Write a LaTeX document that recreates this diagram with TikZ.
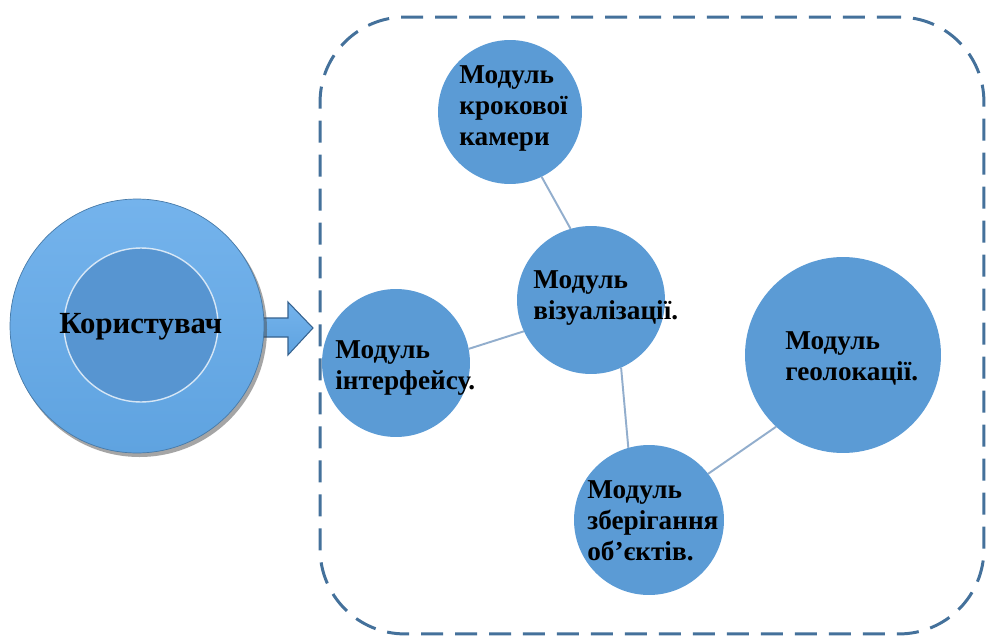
\documentclass[tikz,border=0pt]{standalone}
\usepackage{fontspec}
\setmainfont{Liberation Serif}
\definecolor{modblue}{HTML}{5B9BD5}
\definecolor{userblue}{HTML}{5FA3E0}
\definecolor{userlight}{HTML}{74B3EC}
\definecolor{userinner}{HTML}{5795D1}
\definecolor{linkblue}{HTML}{92AECD}
\definecolor{bordblue}{HTML}{44719B}
\definecolor{arrowedge}{HTML}{35628F}
\begin{document}
\begin{tikzpicture}[x=0.02cm,y=-0.02cm,
  module/.style={circle, fill=modblue, draw=none, inner sep=0pt, outer sep=0pt},
  lbl/.style={font=\bfseries\fontsize{15.5}{17.6}\selectfont, align=left, inner sep=0pt, anchor=north west, text=black},
  link/.style={draw=linkblue, line width=1.1pt},
  sysbox/.style={draw=bordblue, line width=1.7pt, dash pattern=on 0.44cm off 0.24cm, rounded corners=1.7cm, inner sep=0pt, outer sep=0pt}
]
\useasboundingbox (0,0) rectangle (987,639);
\fill[white] (0,0) rectangle (987,639);

% system boundary
\node[sysbox, minimum width=13.28cm, minimum height=12.34cm] (sys) at (652,325.5) {};

% modules
\node[module, minimum size=2.88cm] (cam) at (510,112) {};
\node[module, minimum size=2.96cm] (vis) at (591,300) {};
\node[module, minimum size=2.96cm] (intf) at (396,363) {};
\node[module, minimum size=3.92cm] (geo) at (843,355) {};
\node[module, minimum size=3.00cm] (stor) at (649,520) {};

% connectors
\draw[link] (cam.-64) -- (vis.106);
\draw[link] (intf.11) -- (vis.205);
\draw[link] (vis.-66) -- (stor.106);
\draw[link] (stor.38) -- (geo.227);

% block arrow
\path[top color=userlight, bottom color=userblue, draw=arrowedge, line width=0.6pt, line join=miter]
  (250,318) -- (288,318) -- (288,302) -- (313,328) -- (288,355) -- (288,337) -- (250,337) -- cycle;

% user circle with shadow
\fill[black!70, opacity=0.5] (139.5,329.5) circle (127.5);
\node[circle, minimum size=5.08cm, inner sep=0pt, outer sep=0pt,
      top color=userlight, bottom color=userblue, draw=userblue!75!black, line width=0.4pt] (user) at (137,326) {};
\node[circle, minimum size=3.08cm, inner sep=0pt, fill=userinner, draw=white, draw opacity=0.75, line width=0.8pt] (userin) at (141,325) {};

% labels
\node[lbl, font=\bfseries\fontsize{17.5}{20}\selectfont] (tuser) at (59,313) {Користувач};
\node[lbl] (tcam) at (459,65) {Модуль\\крокової\\камери};
\node[lbl] (tvis) at (533,270) {Модуль\\візуалізації.};
\node[lbl] (tintf) at (335,340) {Модуль\\інтерфейсу.};
\node[lbl] (tgeo) at (785,331) {Модуль\\геолокації.};
\node[lbl] (tstor) at (587,480) {Модуль\\зберігання\\об’єктів.};
\end{tikzpicture}
\end{document}
